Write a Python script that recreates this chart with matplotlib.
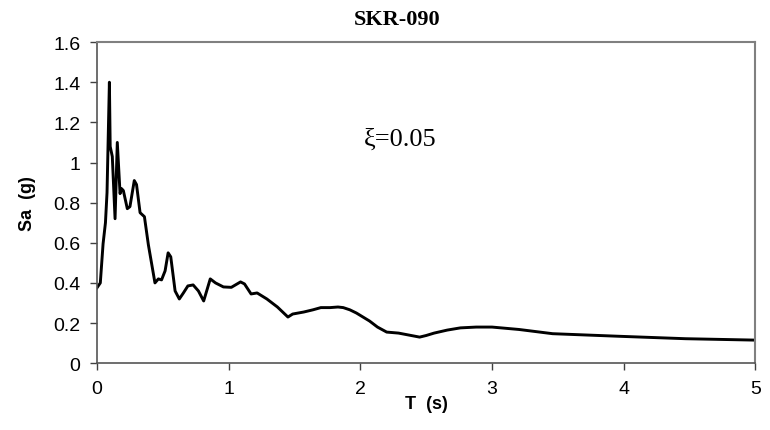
import matplotlib.pyplot as plt

# period (s) and spectral acceleration (g)
T = [0.0, 0.025, 0.046, 0.064, 0.076, 0.094, 0.10, 0.116, 0.137, 0.154,
     0.175, 0.186, 0.20, 0.23, 0.25, 0.283, 0.30, 0.327, 0.36, 0.39,
     0.44, 0.466, 0.49, 0.517, 0.54, 0.56, 0.593, 0.625, 0.656, 0.69,
     0.73, 0.77, 0.81, 0.86, 0.90, 0.96, 1.02, 1.09, 1.12, 1.17,
     1.216, 1.29, 1.37, 1.45, 1.486, 1.57, 1.64, 1.70, 1.77, 1.83,
     1.87, 1.92, 1.97, 2.02, 2.07, 2.13, 2.20, 2.29, 2.37, 2.45,
     2.50, 2.56, 2.66, 2.76, 2.88, 3.0, 3.205, 3.46, 3.97, 4.47,
     5.0]
Sa = [0.376, 0.40, 0.595, 0.70, 0.85, 1.40, 1.08, 1.03, 0.72, 1.10,
      0.845, 0.87, 0.86, 0.77, 0.78, 0.91, 0.89, 0.75, 0.73, 0.59,
      0.40, 0.42, 0.415, 0.46, 0.55, 0.53, 0.36, 0.32, 0.35, 0.385,
      0.39, 0.36, 0.31, 0.42, 0.40, 0.38, 0.378, 0.405, 0.395, 0.345,
      0.35, 0.32, 0.28, 0.23, 0.245, 0.255, 0.266, 0.277, 0.277, 0.28,
      0.277, 0.266, 0.25, 0.23, 0.21, 0.18, 0.155, 0.15, 0.14, 0.13,
      0.138, 0.15, 0.165, 0.176, 0.18, 0.18, 0.168, 0.147, 0.134, 0.122,
      0.115]

x_ticks = [0, 1, 2, 3, 4, 5]
y_ticks = [0, 0.2, 0.4, 0.6, 0.8, 1.0, 1.2, 1.4, 1.6]
y_labels = ["0", "0.2", "0.4", "0.6", "0.8", "1", "1.2", "1.4", "1.6"]

fig = plt.figure(figsize=(7.7, 4.31), dpi=100)
ax = fig.add_axes([0.126, 0.155, 0.855, 0.745])

ax.plot(T, Sa, color="black", linewidth=2.1)

ax.set_xlim(0, 5)
ax.set_ylim(0, 1.6)
ax.set_xticks(x_ticks)
ax.set_xticklabels([str(v) for v in x_ticks], fontname="Liberation Sans", fontsize=14)
ax.set_yticks(y_ticks)
ax.set_yticklabels(y_labels, fontname="Liberation Sans", fontsize=14)
ax.tick_params(direction="out", length=5, width=1, color="#404040", pad=7)

for side in ["top", "right"]:
    ax.spines[side].set_color("#808080")
    ax.spines[side].set_linewidth(1.5)
for side in ["left", "bottom"]:
    ax.spines[side].set_color("#555555")
    ax.spines[side].set_linewidth(1.2)

ax.set_xlabel("T  (s)", fontname="Liberation Sans", fontweight="bold", fontsize=13, labelpad=-1)
ax.set_ylabel("Sa  (g)", fontname="Liberation Sans", fontweight="bold", fontsize=13, labelpad=12)
fig.text(397 / 770, 1 - 20 / 431, "SKR-090", fontname="Liberation Serif",
         fontweight="bold", fontsize=16, ha="center", va="center")

ax.text(2.03, 1.12, "ξ=0.05", fontname="Liberation Serif", fontsize=19, va="center", ha="left")

fig.savefig("out.png", dpi=100)
